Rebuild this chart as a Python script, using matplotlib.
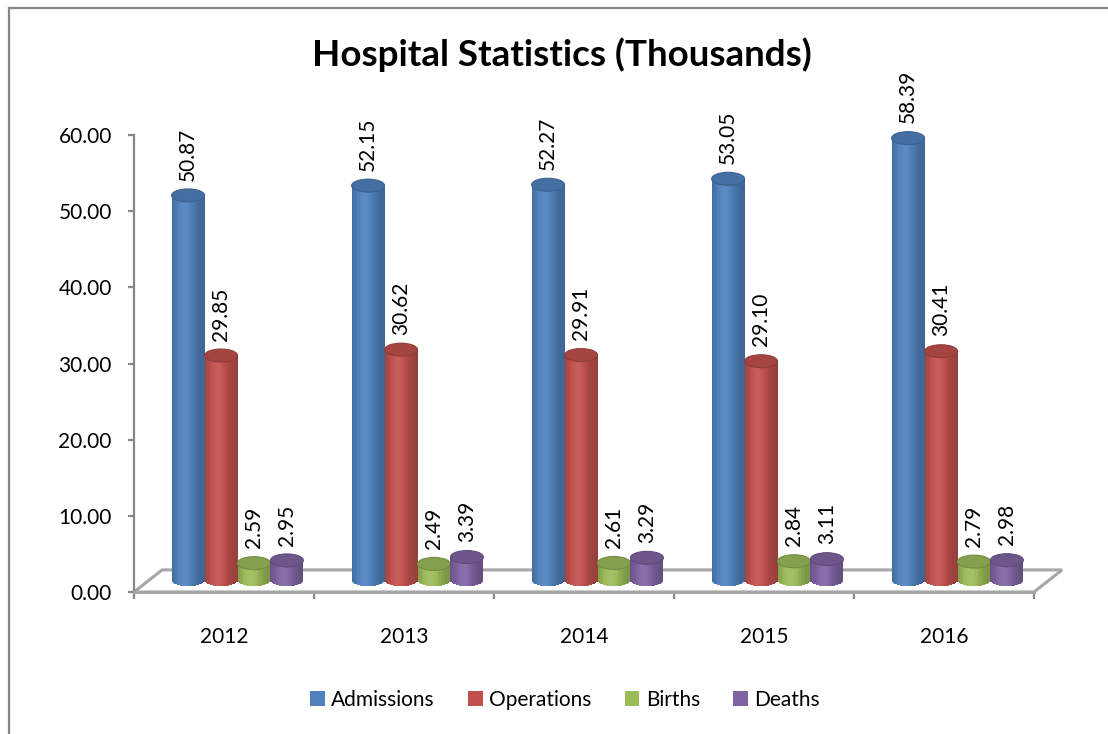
import matplotlib
matplotlib.use('Agg')
import matplotlib.pyplot as plt
import numpy as np
from matplotlib.patches import Ellipse, Polygon, Patch
from matplotlib.colors import to_rgb
from matplotlib.lines import Line2D

plt.rcParams['font.family'] = ['Lato', 'DejaVu Sans']

years = ['2012', '2013', '2014', '2015', '2016']
series = ['Admissions', 'Operations', 'Births', 'Deaths']
admissions = [50.87, 52.15, 52.27, 53.05, 58.39]
operations = [29.85, 30.62, 29.91, 29.10, 30.41]
births = [2.59, 2.49, 2.61, 2.84, 2.79]
deaths = [2.95, 3.39, 3.29, 3.11, 2.98]
colors = ['#4F81BD', '#C0504D', '#9BBB59', '#8064A2']
values = [admissions, operations, births, deaths]

W, H = 1108, 734
fig = plt.figure(figsize=(W / 100, H / 100), dpi=100)
ax = fig.add_axes([134 / W, 1 - 592 / H, 900 / W, 457 / H])
ax.set_xlim(-0.5, 4.5)
ax.set_ylim(0, 60)

gray = '#878787'

# fake 3d geometry
bar_w = 0.183
shift = 0.075
base = 1.6
top_off = 1.2
ell_h = 1.7
n_strips = 24
depth_x, depth_y = 0.156, 2.9


def shade(c, f):
    c = np.array(to_rgb(c))
    if f >= 1:
        return tuple(np.clip(c + (1 - c) * (f - 1), 0, 1))
    return tuple(c * f)


def profile(t):
    # darker edges, highlight a bit left of centre
    return 0.78 + 0.30 * np.exp(-((t - 0.4) / 0.32) ** 2)


# floor
floor = Polygon([(-0.5, 0), (4.5, 0), (4.5 + depth_x, depth_y), (-0.5 + depth_x, depth_y)],
                closed=True, facecolor='white', edgecolor='#A6A6A6', lw=2.2,
                clip_on=False, zorder=1)
ax.add_patch(floor)

x = np.arange(len(years))
for i, (vals, c) in enumerate(zip(values, colors)):
    for j, v in enumerate(vals):
        xc = x[j] + shift + (i - 1.5) * bar_w
        top = v + top_off
        t = (np.arange(n_strips) + 0.5) / n_strips
        lefts = xc - bar_w / 2 + np.arange(n_strips) * bar_w / n_strips
        bottoms = base - ell_h / 2 * np.sqrt(1 - (2 * t - 1) ** 2)
        cols = [shade(c, profile(tt)) for tt in t]
        ax.bar(lefts, top - bottoms, width=bar_w / n_strips * 1.08, bottom=bottoms,
               align='edge', color=cols, linewidth=0, zorder=3 + i, clip_on=False)
        ax.add_patch(Ellipse((xc, top), bar_w, ell_h, facecolor=shade(c, 0.86),
                             edgecolor=shade(c, 0.75), lw=0.8, zorder=3 + i, clip_on=False))
        ax.annotate(f'{v:.2f}', (xc, top + ell_h / 2), xytext=(0, 6),
                    textcoords='offset points', rotation=90, ha='center', va='bottom',
                    fontsize=15, zorder=10, annotation_clip=False)

for s in ['top', 'right']:
    ax.spines[s].set_visible(False)
ax.spines['left'].set_color(gray)
ax.spines['left'].set_linewidth(1.6)
ax.spines['bottom'].set_color('#A6A6A6')
ax.spines['bottom'].set_linewidth(2.2)

ax.set_yticks(np.arange(0, 61, 10))
ax.set_yticklabels([f'{v:.2f}' for v in np.arange(0, 61, 10)])
ax.tick_params(axis='y', length=4, width=1.6, color=gray, pad=12, labelsize=15)

ax.set_xticks(x)
ax.set_xticklabels(years)
ax.set_xticks(np.arange(-0.5, 5, 1), minor=True)
ax.tick_params(axis='x', which='major', length=0, pad=25, labelsize=15)
ax.tick_params(axis='x', which='minor', length=5, width=1.6, color=gray, direction='out')

fig.text(0.507, 1 - 55 / H, 'Hospital Statistics (Thousands)', ha='center', va='center',
         fontsize=26.5, fontweight='bold')

handles = [Patch(facecolor=c) for c in colors]
fig.legend(handles, series, loc='center', bbox_to_anchor=(0.51, 1 - 700 / H), ncol=4,
           frameon=False, fontsize=15, handlelength=0.7, handleheight=0.7,
           handletextpad=0.3, columnspacing=1.6)

# chart border (left and top only visible in the crop)
fig.add_artist(Line2D([9 / W, 9 / W], [0, 1 - 8 / H], transform=fig.transFigure, color=gray, lw=1.6))
fig.add_artist(Line2D([9 / W, 1], [1 - 8 / H, 1 - 8 / H], transform=fig.transFigure, color=gray, lw=1.6))

fig.savefig('out.png', dpi=100)
